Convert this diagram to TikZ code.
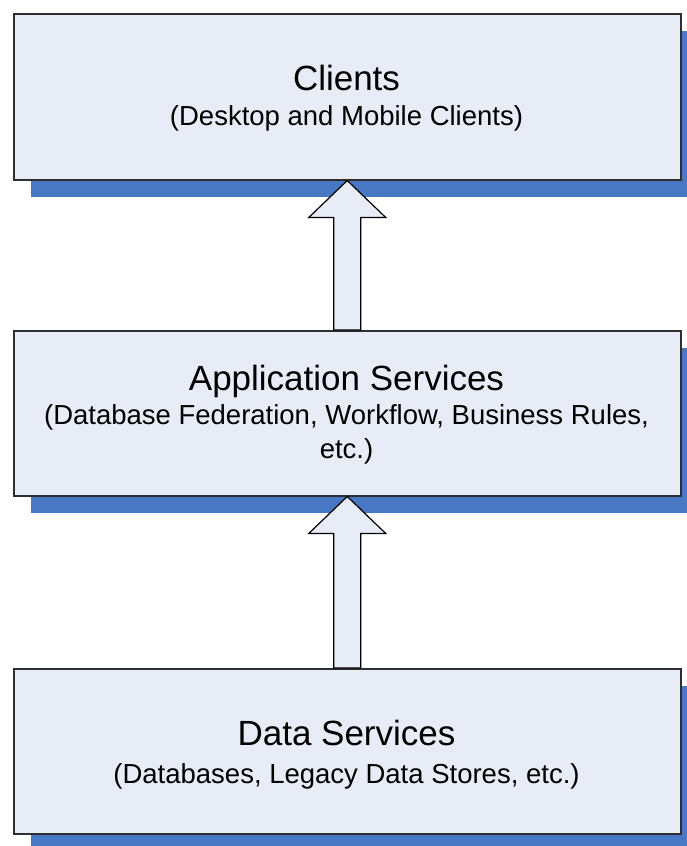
\documentclass[tikz,border=0pt]{standalone}
\usepackage{fontspec}
\setmainfont{Liberation Sans}
\usetikzlibrary{calc,shadows}
\definecolor{boxfill}{HTML}{E8ECF6}
\definecolor{shadowc}{HTML}{4878C4}
\definecolor{edge}{HTML}{2E2E2E}
\begin{document}
\begin{tikzpicture}[x=1pt,y=-1pt,
  layerbox/.style={draw=edge, line width=1.5pt, fill=boxfill, minimum width=667pt,
    inner sep=0pt, anchor=north west,
    drop shadow={shadow xshift=17pt, shadow yshift=-17pt, fill=shadowc, opacity=1}},
  titletext/.style={anchor=base, inner sep=0pt, font=\fontsize{35}{42}\selectfont},
  subtext/.style={anchor=base, inner sep=0pt, font=\fontsize{27.5}{33}\selectfont},
  blockarrow/.style={draw=black, line width=1.2pt, fill=boxfill, line join=miter}]
\useasboundingbox (0,0) rectangle (687,846);
\node[layerbox, minimum height=166pt] (clients) at (13,13) {};
\node[layerbox, minimum height=165pt] (app) at (13,330) {};
\node[layerbox, minimum height=165pt] (data) at (13,668) {};
% block arrows
\draw[blockarrow] (clients.south) -- ($(clients.south)+(38.5,37)$) -- ($(clients.south)+(13.5,37)$)
  -- ($(app.north)+(13.5,0)$) -- ($(app.north)+(-13.5,0)$) -- ($(clients.south)+(-13.5,37)$)
  -- ($(clients.south)+(-38.5,37)$) -- cycle;
\draw[blockarrow] (app.south) -- ($(app.south)+(38.5,37)$) -- ($(app.south)+(13.5,37)$)
  -- ($(data.north)+(13.5,0)$) -- ($(data.north)+(-13.5,0)$) -- ($(app.south)+(-13.5,37)$)
  -- ($(app.south)+(-38.5,37)$) -- cycle;
% texts
\node[titletext] (t1) at (346.5,90) {Clients};
\node[subtext] (s1) at (346.5,125) {(Desktop and Mobile Clients)};
\node[titletext] (t2) at (346.5,390) {Application Services};
\node[subtext] (s2) at (346.5,424) {(Database Federation, Workflow, Business Rules,};
\node[subtext] (s2b) at (346.5,458) {etc.)};
\node[titletext] (t3) at (346.5,745) {Data Services};
\node[subtext] (s3) at (346.5,783) {(Databases, Legacy Data Stores, etc.)};
\end{tikzpicture}
\end{document}
